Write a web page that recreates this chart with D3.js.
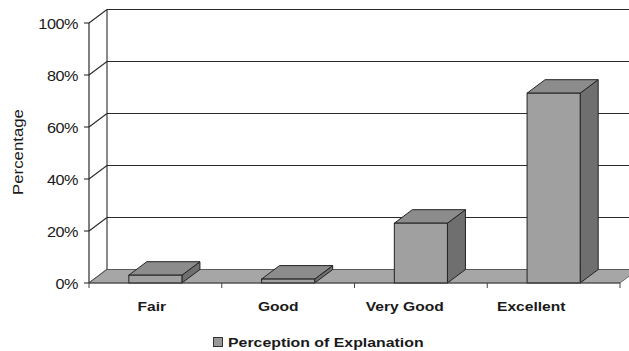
<!DOCTYPE html>
<html>
<head>
<meta charset="utf-8">
<script src="https://cdn.jsdelivr.net/npm/d3@7"></script>
<style>
  html, body { margin: 0; padding: 0; background: #fff; }
  svg { display: block; }
  text { font-family: "Liberation Sans", Arial, sans-serif; fill: #1a1a1a; }
</style>
</head>
<body>
<svg id="chart" width="629" height="351"></svg>
<script>
// Survey results: perception of the explanation given
const categories = ["Fair", "Good", "Very Good", "Excellent"];
const values = [3, 1.5, 23, 73];
const yTicks = [0, 20, 40, 60, 80, 100];
const seriesName = "Perception of Explanation";
const axisTitle = "Percentage";

const svg = d3.select("#chart");

// 3D depth offset of the plot box
const dx = 18, dy = -13.5;

const x = d3.scaleBand().domain(categories).range([89, 620]).padding(0);
const xLabel = d3.scaleBand().domain(categories).range([88.5, 594.5]).padding(0);
const y = d3.scaleLinear().domain([0, 100]).range([283, 23]);

const gridColor = "#2a2a2a";
const xLeft = x.range()[0], xRight = x.range()[1];
const wallRight = 640;

// back wall gridlines and left wall diagonals
const grid = svg.append("g");
grid.selectAll("line.back").data(yTicks).join("line")
  .attr("x1", xLeft + dx).attr("x2", wallRight)
  .attr("y1", d => y(d) + dy).attr("y2", d => y(d) + dy)
  .attr("stroke", gridColor).attr("stroke-width", 1.2);
grid.selectAll("line.diag").data(yTicks).join("line")
  .attr("x1", xLeft).attr("y1", d => y(d))
  .attr("x2", xLeft + dx).attr("y2", d => y(d) + dy)
  .attr("stroke", gridColor).attr("stroke-width", 1.1);
grid.append("line")
  .attr("x1", xLeft + dx).attr("x2", xLeft + dx)
  .attr("y1", y(0) + dy).attr("y2", y(100) + dy)
  .attr("stroke", gridColor).attr("stroke-width", 1.1);

// floor
const y0 = y(0);
svg.append("polygon")
  .attr("points", [[xLeft, y0], [xRight, y0], [xRight + dx, y0 + dy], [xLeft + dx, y0 + dy]].join(" "))
  .attr("fill", "#a6a6a6").attr("stroke", "#555").attr("stroke-width", 0.8);

// bars
const bw = x.bandwidth() * 0.4;
const bars = svg.append("g").selectAll("g").data(categories).join("g");
bars.each(function (c, i) {
  const g = d3.select(this);
  const x0 = x(c) + x.bandwidth() * 0.3, x1 = x0 + bw;
  const yv = y(values[i]);
  // side face
  g.append("polygon")
    .attr("points", [[x1, yv], [x1 + dx, yv + dy], [x1 + dx, y0 + dy], [x1, y0]].join(" "))
    .attr("fill", "#6f6f6f").attr("stroke", "#222").attr("stroke-width", 1);
  // top face
  g.append("polygon")
    .attr("points", [[x0, yv], [x1, yv], [x1 + dx, yv + dy], [x0 + dx, yv + dy]].join(" "))
    .attr("fill", "#8c8c8c").attr("stroke", "#222").attr("stroke-width", 1);
  // front face
  g.append("rect")
    .attr("x", x0).attr("y", yv).attr("width", bw).attr("height", y0 - yv)
    .attr("fill", "#a0a0a0").attr("stroke", "#222").attr("stroke-width", 1);
});

// front axes
svg.append("line").attr("x1", xLeft).attr("x2", xLeft)
  .attr("y1", y(0)).attr("y2", y(100)).attr("stroke", gridColor).attr("stroke-width", 1.2);
svg.append("line").attr("x1", xLeft).attr("x2", xRight)
  .attr("y1", y0).attr("y2", y0).attr("stroke", "#444").attr("stroke-width", 1);
svg.append("g").selectAll("line").data(yTicks).join("line")
  .attr("x1", xLeft - 5).attr("x2", xLeft)
  .attr("y1", d => y(d)).attr("y2", d => y(d))
  .attr("stroke", gridColor).attr("stroke-width", 1.1);
const xTickPos = categories.map(c => x(c)).concat([xRight]);
svg.append("g").selectAll("line").data(xTickPos).join("line")
  .attr("x1", d => d).attr("x2", d => d)
  .attr("y1", y0).attr("y2", y0 + 5)
  .attr("stroke", "#444").attr("stroke-width", 1);

// y tick labels
svg.append("g").selectAll("text").data(yTicks).join("text")
  .attr("transform", d => `translate(78,${y(d) + 1}) scale(1.12,1)`)
  .attr("text-anchor", "end").attr("dominant-baseline", "central")
  .attr("font-size", 14.5).attr("letter-spacing", -0.4)
  .text(d => d + "%");

// axis title
svg.append("text")
  .attr("transform", "translate(23,152) rotate(-90) scale(1.2,1)")
  .attr("text-anchor", "middle")
  .attr("font-size", 14)
  .text(axisTitle);

// category labels
svg.append("g").selectAll("text").data(categories).join("text")
  .attr("transform", c => `translate(${xLabel(c) + xLabel.bandwidth() / 2},311) scale(1.2,1)`)
  .attr("text-anchor", "middle")
  .attr("font-size", 13).attr("font-weight", "bold")
  .text(c => c);

// legend
const lg = svg.append("g");
lg.append("rect").attr("x", 213.5).attr("y", 337.5).attr("width", 9).attr("height", 9)
  .attr("fill", "#999").attr("stroke", "#333").attr("stroke-width", 1);
lg.append("text")
  .attr("transform", "translate(228,346.5) scale(1.22,1)")
  .attr("font-size", 13).attr("font-weight", "bold")
  .text(seriesName);
</script>
</body>
</html>
